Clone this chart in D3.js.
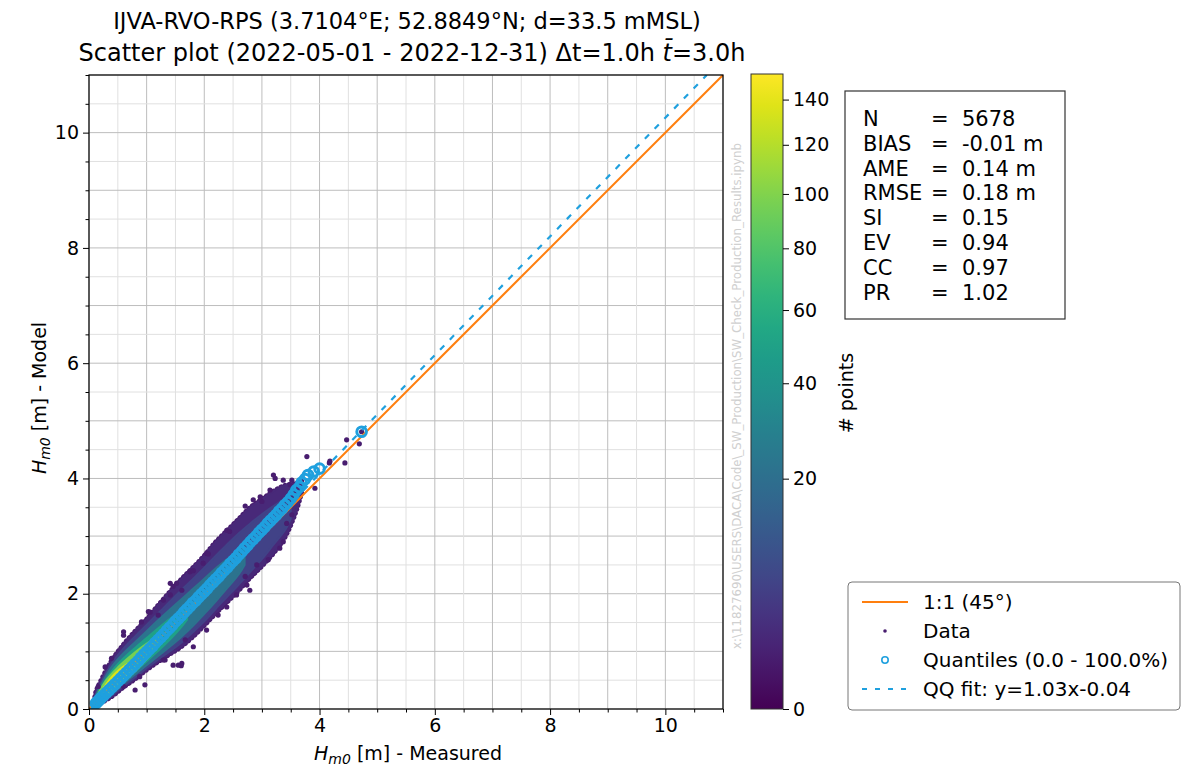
<!DOCTYPE html>
<html>
<head>
<meta charset="utf-8">
<script src="https://cdn.jsdelivr.net/npm/d3@7"></script>
<style>
  body { margin: 0; background: #fff; }
  text { font-family: "DejaVu Sans", sans-serif; fill: #000; }
</style>
</head>
<body>
<div id="chart"></div>
<script>
// ---- values ----
var titleLine1 = "IJVA-RVO-RPS (3.7104°E; 52.8849°N; d=33.5 mMSL)";
var titleLine2a = "Scatter plot (2022-05-01 - 2022-12-31) Δt=1.0h ";
var titleLine2b = "t̄";
var titleLine2c = "=3.0h";
var axisTicks = [0, 2, 4, 6, 8, 10];
var axisMax = 11;
var cbTicks = [0, 20, 40, 60, 80, 100, 120, 140];
var cbMax = 152;
var statNames = ["N", "BIAS", "AME", "RMSE", "SI", "EV", "CC", "PR"];
var statValues = ["5678", "-0.01 m", "0.14 m", "0.18 m", "0.15", "0.94", "0.97", "1.02"];
var legendLabels = ["1:1 (45°)", "Data", "Quantiles (0.0 - 100.0%)", "QQ fit: y=1.03x-0.04"];
var qqSlope = 1.03;
var qqIntercept = -0.04;
var watermark = "x:\\11827690\\USERS\\DACA\\Code\\_SW_Production\\SW_Check_Production_Results.ipynb";

// density bands of the scatter cloud: [measured, model low, model high], count of each band
var bandCounts = [2, 6, 22, 50, 95, 135];
var band1 = [[0.09,0.06,0.14],[0.12,0.06,0.3],[0.2,0.1,0.48],[0.4,0.22,0.85],[0.6,0.38,1.12],[0.8,0.52,1.35],
             [1.0,0.68,1.56],[1.2,0.82,1.8],[1.4,0.95,2.03],[1.6,1.08,2.25],[1.8,1.25,2.45],[2.0,1.45,2.66],
             [2.2,1.66,2.9],[2.4,1.86,3.1],[2.6,2.06,3.3],[2.8,2.28,3.5],[3.0,2.48,3.64],[3.2,2.7,3.78],
             [3.4,2.98,3.88],[3.6,3.45,3.92],[3.7,3.8,3.96]];
var band2 = [[0.1,0.07,0.21],[0.2,0.11,0.44],[0.4,0.24,0.8],[0.6,0.4,1.05],[0.8,0.55,1.26],[1.0,0.71,1.46],
             [1.2,0.86,1.66],[1.4,1.0,1.86],[1.6,1.15,2.06],[1.8,1.33,2.25],[2.0,1.52,2.45],[2.2,1.74,2.66],
             [2.4,1.95,2.86],[2.6,2.16,3.05],[2.8,2.38,3.22],[3.0,2.6,3.38],[3.2,2.85,3.52],[3.4,3.1,3.65],
             [3.5,3.3,3.7]];
var band3 = [[0.1,0.08,0.19],[0.2,0.13,0.4],[0.4,0.27,0.74],[0.6,0.44,0.97],[0.8,0.6,1.16],[1.0,0.76,1.35],
             [1.2,0.92,1.54],[1.4,1.08,1.72],[1.6,1.25,1.9],[1.8,1.44,2.08],[2.0,1.65,2.26],[2.2,1.87,2.44],
             [2.4,2.1,2.6],[2.6,2.34,2.74],[2.7,2.5,2.8]];
var band4 = [[0.1,0.09,0.16],[0.2,0.14,0.36],[0.4,0.29,0.66],[0.6,0.47,0.88],[0.8,0.65,1.06],[1.0,0.83,1.23],
             [1.2,1.01,1.4],[1.4,1.2,1.56],[1.6,1.42,1.7],[1.7,1.55,1.76]];
var band5 = [[0.15,0.12,0.24],[0.3,0.21,0.5],[0.5,0.38,0.72],[0.7,0.56,0.9],[0.9,0.76,1.06],[1.1,0.98,1.2],
             [1.2,1.1,1.26]];
var band6 = [[0.25,0.2,0.36],[0.4,0.3,0.56],[0.55,0.44,0.7],[0.7,0.6,0.8],[0.8,0.72,0.85]];

// scattered single points outside the cloud
var outliers = [[0.28,0.73],[0.6,1.34],[0.91,1.51],[1.06,1.68],[1.41,2.18],[1.52,2.18],[1.75,2.38],[2.04,2.7],
  [2.39,3.1],[2.71,3.52],[3.0,3.6],[3.2,4.06],[3.52,3.97],[3.78,4.38],[3.92,3.83],[4.17,4.27],[4.44,4.27],
  [4.47,4.67],[4.69,4.6],[3.11,2.59],[3.37,2.9],[3.31,2.79],[2.71,2.3],[2.74,2.15],[2.79,2.06],[2.04,1.37],
  [1.55,0.76],[1.6,0.75],[1.29,0.85],[0.88,0.56],[0.6,0.39],[2.44,3.08],[2.07,2.69],[1.81,2.4],[1.46,2.13],
  [1.29,1.89],[2.91,2.5],[2.56,1.98],[2.39,1.77],[2.24,1.63],[1.61,2.06],[1.98,2.53],[4.18,4.3],[2.85,3.63],
  [3.23,4.0],[3.37,3.97],[3.49,3.89],[3.52,3.37],[3.43,3.22],[3.14,3.8],[2.97,3.68],[0.16,0.39],[0.39,0.88],
  [0.6,1.28],[1.03,1.69],[1.41,1.98],[1.2,1.63],[1.46,0.76],[1.61,0.79],[1.32,0.85],[0.97,0.42],[0.8,0.33],
  [1.81,1.08],[1.67,1.2],[4.73,4.81]];

// quantiles (measured, model)
var qMeas = [0.12,0.15,0.18,0.21,0.25,0.3,0.35,0.4,0.45,0.5,0.55,0.6,0.65,0.7,0.75,0.8,0.85,0.9,0.95,1.0,
  1.05,1.1,1.15,1.2,1.25,1.3,1.35,1.4,1.45,1.5,1.55,1.6,1.65,1.7,1.75,1.8,1.85,1.9,1.95,2.0,2.05,2.1,2.15,
  2.2,2.25,2.3,2.35,2.4,2.45,2.5,2.55,2.6,2.65,2.7,2.75,2.8,2.85,2.9,2.95,3.0,3.05,3.1,3.15,3.2,3.25,3.3,
  3.35,3.4,3.45,3.5,3.55,3.6,3.65,3.69,3.75,3.8,3.9,4.0,4.73];
var qModel = [0.1,0.13,0.16,0.19,0.23,0.28,0.33,0.38,0.43,0.48,0.53,0.58,0.63,0.68,0.73,0.78,0.83,0.89,0.94,0.99,
  1.04,1.09,1.15,1.2,1.25,1.3,1.36,1.41,1.46,1.52,1.57,1.62,1.68,1.73,1.78,1.84,1.88,1.94,1.99,2.04,2.09,2.15,2.2,
  2.25,2.3,2.36,2.41,2.46,2.52,2.57,2.62,2.68,2.73,2.79,2.84,2.9,2.95,3.0,3.06,3.11,3.16,3.22,3.27,3.32,3.37,3.43,
  3.48,3.54,3.59,3.65,3.72,3.8,3.85,3.93,3.99,4.06,4.12,4.17,4.81];

function init() {
    var w = 1199, h = 766;
    var left = 89, top = 75, size = 634;
    var orange = "#ff7f0e", qblue = "#1fa0de";

    var svg = d3.select("#chart").append("svg")
                .attr("width", w).attr("height", h);

    var x = d3.scaleLinear().domain([0, axisMax]).range([left, left + size]);
    var y = d3.scaleLinear().domain([0, axisMax]).range([top + size, top]);
    var cb = d3.scaleSqrt().domain([0, cbMax]).range([top + size, 74]);
    var color = function(c) { return d3.interpolateViridis(Math.sqrt(c / cbMax)); };

    // titles
    svg.append("text").attr("x", 407).attr("y", 29).attr("text-anchor", "middle")
       .style("font-size", "22.5px").text(titleLine1);
    var t2 = svg.append("text").attr("x", 412).attr("y", 61).attr("text-anchor", "middle")
       .style("font-size", "24px");
    t2.append("tspan").text(titleLine2a);
    t2.append("tspan").style("font-style", "italic").text(titleLine2b);
    t2.append("tspan").text(titleLine2c);

    // grid
    var halfTicks = d3.range(0, axisMax + 0.01, 0.5);
    var grid = svg.append("g");
    halfTicks.forEach(function(v) {
        var major = Math.abs(v - Math.round(v)) < 1e-6;
        var c = major ? "#bdbdbd" : "#e0e0e0";
        grid.append("line").attr("x1", x(v)).attr("x2", x(v)).attr("y1", y(0)).attr("y2", y(axisMax))
            .attr("stroke", c).attr("stroke-width", 1);
        grid.append("line").attr("y1", y(v)).attr("y2", y(v)).attr("x1", x(0)).attr("x2", x(axisMax))
            .attr("stroke", c).attr("stroke-width", 1);
    });

    var plot = svg.append("g");
    svg.append("clipPath").attr("id", "clip").append("rect")
       .attr("x", left).attr("y", top).attr("width", size).attr("height", size);
    plot.attr("clip-path", "url(#clip)");

    // density bands
    var area = d3.area()
                 .x(function(d) { return x(d[0]); })
                 .y0(function(d) { return y(d[1]); })
                 .y1(function(d) { return y(d[2]); })
                 .curve(d3.curveCatmullRom);
    // ragged dotted rim of the outer cloud
    plot.append("path").datum(band1).attr("d", area)
        .attr("fill", "none").attr("stroke", color(1)).attr("stroke-width", 5)
        .attr("stroke-linecap", "round").attr("stroke-dasharray", "0.1,4.2");
    [band1, band2, band3, band4, band5, band6].forEach(function(b, i) {
        plot.append("path").datum(b).attr("d", area)
            .attr("fill", color(bandCounts[i]))
            .attr("stroke", color(bandCounts[i])).attr("stroke-width", 2)
            .attr("stroke-linejoin", "round");
    });

    plot.selectAll("circle.out").data(outliers).enter().append("circle")
        .attr("class", "out")
        .attr("cx", function(d) { return x(d[0]); })
        .attr("cy", function(d) { return y(d[1]); })
        .attr("r", 2.6)
        .attr("fill", color(1));

    // 1:1 line
    plot.append("line").attr("x1", x(0)).attr("y1", y(0)).attr("x2", x(axisMax)).attr("y2", y(axisMax))
        .attr("stroke", orange).attr("stroke-width", 2);

    // quantiles
    plot.selectAll("circle.q").data(qMeas).enter().append("circle")
        .attr("class", "q")
        .attr("cx", function(d) { return x(d); })
        .attr("cy", function(d, i) { return y(qModel[i]); })
        .attr("r", 4.8)
        .attr("fill", "none")
        .attr("stroke", qblue).attr("stroke-width", 3);

    // QQ fit
    var qx1 = (axisMax - qqIntercept) / qqSlope;
    plot.append("line").attr("x1", x(0)).attr("y1", y(qqIntercept))
        .attr("x2", x(qx1)).attr("y2", y(axisMax))
        .attr("stroke", qblue).attr("stroke-width", 2.2).attr("stroke-dasharray", "6,8");

    // axes
    var xAxis = d3.axisBottom(x).tickValues(axisTicks).tickSizeOuter(0).tickSize(6).tickPadding(4);
    var yAxis = d3.axisLeft(y).tickValues(axisTicks).tickSizeOuter(0).tickSize(6).tickPadding(4);
    var minor = halfTicks.filter(function(v) { return axisTicks.indexOf(v) < 0; });

    var gx = svg.append("g").attr("transform", "translate(0," + (top + size) + ")").call(xAxis);
    var gy = svg.append("g").attr("transform", "translate(" + left + ",0)").call(yAxis);
    svg.append("g").attr("transform", "translate(0," + (top + size) + ")")
       .call(d3.axisBottom(x).tickValues(minor).tickSize(3.5).tickFormat(""))
       .select(".domain").remove();
    svg.append("g").attr("transform", "translate(" + left + ",0)")
       .call(d3.axisLeft(y).tickValues(minor).tickSize(3.5).tickFormat(""))
       .select(".domain").remove();
    [gx, gy].forEach(function(g) {
        g.selectAll("text").style("font-size", "19px").style("font-family", "DejaVu Sans");
        g.select(".domain").remove();
    });

    svg.append("rect").attr("x", left).attr("y", top).attr("width", size).attr("height", size)
       .attr("fill", "none").attr("stroke", "#000").attr("stroke-width", 1.2);

    // axis labels
    var xl = svg.append("text").attr("x", 408).attr("y", 760).attr("text-anchor", "middle")
                .style("font-size", "19px");
    xl.append("tspan").style("font-style", "italic").text("H");
    xl.append("tspan").style("font-style", "italic").style("font-size", "14px").attr("dy", 4).text("m0");
    xl.append("tspan").attr("dy", -4).text(" [m] - Measured");

    var yl = svg.append("text").attr("transform", "translate(46,398) rotate(-90)")
                .attr("text-anchor", "middle").style("font-size", "19px");
    yl.append("tspan").style("font-style", "italic").text("H");
    yl.append("tspan").style("font-style", "italic").style("font-size", "14px").attr("dy", 4).text("m0");
    yl.append("tspan").attr("dy", -4).text(" [m] - Model");

    // watermark
    svg.append("text").attr("transform", "translate(741,396) rotate(-90)")
       .attr("text-anchor", "middle").style("font-size", "11.8px").style("fill", "#d0d0d0")
       .text(watermark);

    // colorbar
    var grad = svg.append("defs").append("linearGradient").attr("id", "vir")
                  .attr("x1", 0).attr("y1", 1).attr("x2", 0).attr("y2", 0);
    d3.range(0, 1.001, 0.05).forEach(function(t) {
        grad.append("stop").attr("offset", t).attr("stop-color", d3.interpolateViridis(t));
    });
    svg.append("rect").attr("x", 751).attr("y", 74).attr("width", 32).attr("height", top + size - 74)
       .attr("fill", "url(#vir)").attr("stroke", "#333").attr("stroke-width", 1);
    var gc = svg.append("g").attr("transform", "translate(783,0)")
                .call(d3.axisRight(cb).tickValues(cbTicks).tickSize(6).tickPadding(4));
    gc.select(".domain").remove();
    gc.selectAll("text").style("font-size", "19px").style("font-family", "DejaVu Sans");
    svg.append("text").attr("transform", "translate(853,393) rotate(-90)")
       .attr("text-anchor", "middle").style("font-size", "19px").text("# points");

    // statistics box
    svg.append("rect").attr("x", 845).attr("y", 91).attr("width", 220).attr("height", 228)
       .attr("fill", "#fff").attr("stroke", "#333").attr("stroke-width", 1.2);
    var st = svg.append("g");
    statNames.forEach(function(n, i) {
        var yy = 126 + i * 24.8;
        st.append("text").attr("x", 863).attr("y", yy).style("font-size", "21px").text(n);
        st.append("text").attr("x", 931).attr("y", yy).style("font-size", "21px").text("=");
        st.append("text").attr("x", 962).attr("y", yy).style("font-size", "21px").text(statValues[i]);
    });

    // legend
    svg.append("rect").attr("x", 848).attr("y", 582).attr("width", 332).attr("height", 128)
       .attr("rx", 4).attr("fill", "#fff").attr("stroke", "#777").attr("stroke-width", 1);
    var ly = [602, 631, 660, 689];
    svg.append("line").attr("x1", 862).attr("x2", 908).attr("y1", ly[0]).attr("y2", ly[0])
       .attr("stroke", orange).attr("stroke-width", 2);
    svg.append("circle").attr("cx", 885).attr("cy", ly[1]).attr("r", 1.8).attr("fill", color(1));
    svg.append("circle").attr("cx", 885).attr("cy", ly[2]).attr("r", 3.2).attr("fill", "none")
       .attr("stroke", qblue).attr("stroke-width", 1.6);
    svg.append("line").attr("x1", 862).attr("x2", 908).attr("y1", ly[3]).attr("y2", ly[3])
       .attr("stroke", qblue).attr("stroke-width", 2).attr("stroke-dasharray", "5,8");
    legendLabels.forEach(function(l, i) {
        svg.append("text").attr("x", 923).attr("y", ly[i] + 7).style("font-size", "20px").text(l);
    });
}

window.onload = init;
</script>
</body>
</html>
